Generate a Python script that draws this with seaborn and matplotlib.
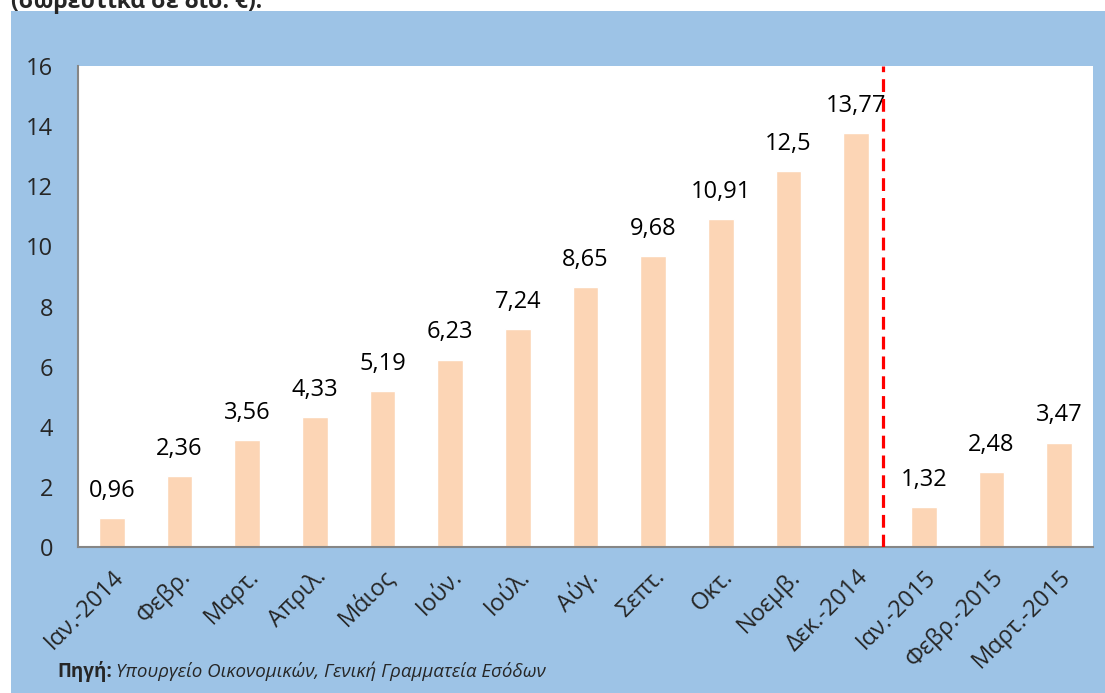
import matplotlib
matplotlib.use("Agg")
import matplotlib.pyplot as plt
import seaborn as sns
import pandas as pd
from matplotlib.patches import Rectangle

months = ["Ιαν.-2014", "Φεβρ.", "Μαρτ.", "Απριλ.", "Μάιος", "Ιούν.", "Ιούλ.",
          "Αύγ.", "Σεπτ.", "Οκτ.", "Νοεμβ.", "Δεκ.-2014", "Ιαν.-2015",
          "Φεβρ.-2015", "Μαρτ.-2015"]
values = [0.96, 2.36, 3.56, 4.33, 5.19, 6.23, 7.24, 8.65, 9.68, 10.91,
          12.5, 13.77, 1.32, 2.48, 3.47]
y_ticks = [0, 2, 4, 6, 8, 10, 12, 14, 16]

df = pd.DataFrame({"month": months, "value": values})

sns.set_style("white")
plt.rcParams['font.family'] = ['Open Sans', 'DejaVu Sans']

W, H = 1105, 693
fig = plt.figure(figsize=(W / 100, H / 100), dpi=100, facecolor="white")

# blue frame behind the chart
fig.patches.append(Rectangle((11 / W, 0), 1, 1 - 11 / H, transform=fig.transFigure,
                             facecolor="#9DC3E6", edgecolor="none", zorder=-10))

ax = fig.add_axes([78 / W, (H - 547) / H, (1093 - 78) / W, (547 - 66) / H])
ax.set_facecolor("white")

sns.barplot(data=df, x="month", y="value", color="#FCD5B5", saturation=1,
            width=0.38, ax=ax)

for i, v in enumerate(values):
    ax.annotate(str(v).replace(".", ","), (i, v), xytext=(0, 11),
                textcoords="offset points", ha="center", va="bottom",
                fontsize=17, color="black")

ax.axvline(11.4, color="#FF0000", lw=2.3, dashes=(4, 2.2), zorder=5)

ax.set_ylim(0, 16)
ax.set_xlim(-0.5, len(months) - 0.5)
ax.set_yticks(y_ticks)
ax.set_yticklabels([str(t) for t in y_ticks], fontsize=17)
ax.set_xticks([i - 0.5 for i in range(len(months) + 1)], minor=False)
ax.set_xticklabels([])
ax.set_xticks(range(len(months)), minor=True)
ax.set_xticklabels(months, minor=True, rotation=45, ha="right",
                   rotation_mode="anchor", fontsize=17)
ax.tick_params(axis="x", which="minor", length=0, pad=13)
ax.tick_params(axis="x", which="major", length=7, width=1.5, color="#868686")
ax.tick_params(axis="y", length=7, width=1.5, color="#868686", pad=11)
ax.set_xlabel("")
ax.set_ylabel("")

for s in ["top", "right"]:
    ax.spines[s].set_visible(False)
for s in ["left", "bottom"]:
    ax.spines[s].set_color("#868686")
    ax.spines[s].set_linewidth(1.5)

fig.text(11 / W, 1 - 8 / H, "(σωρευτικά σε δισ. €).", fontsize=16.5,
         fontweight="bold", ha="left", va="baseline")

fig.text(57 / W, 1 - 677 / H, "Πηγή:", fontsize=13.5, fontweight="bold",
         ha="left", va="baseline")
fig.text(116 / W, 1 - 677 / H, "Υπουργείο Οικονομικών, Γενική Γραμματεία Εσόδων",
         fontsize=13.5, style="italic", ha="left", va="baseline")

fig.savefig("out.png", dpi=100, facecolor="white")
